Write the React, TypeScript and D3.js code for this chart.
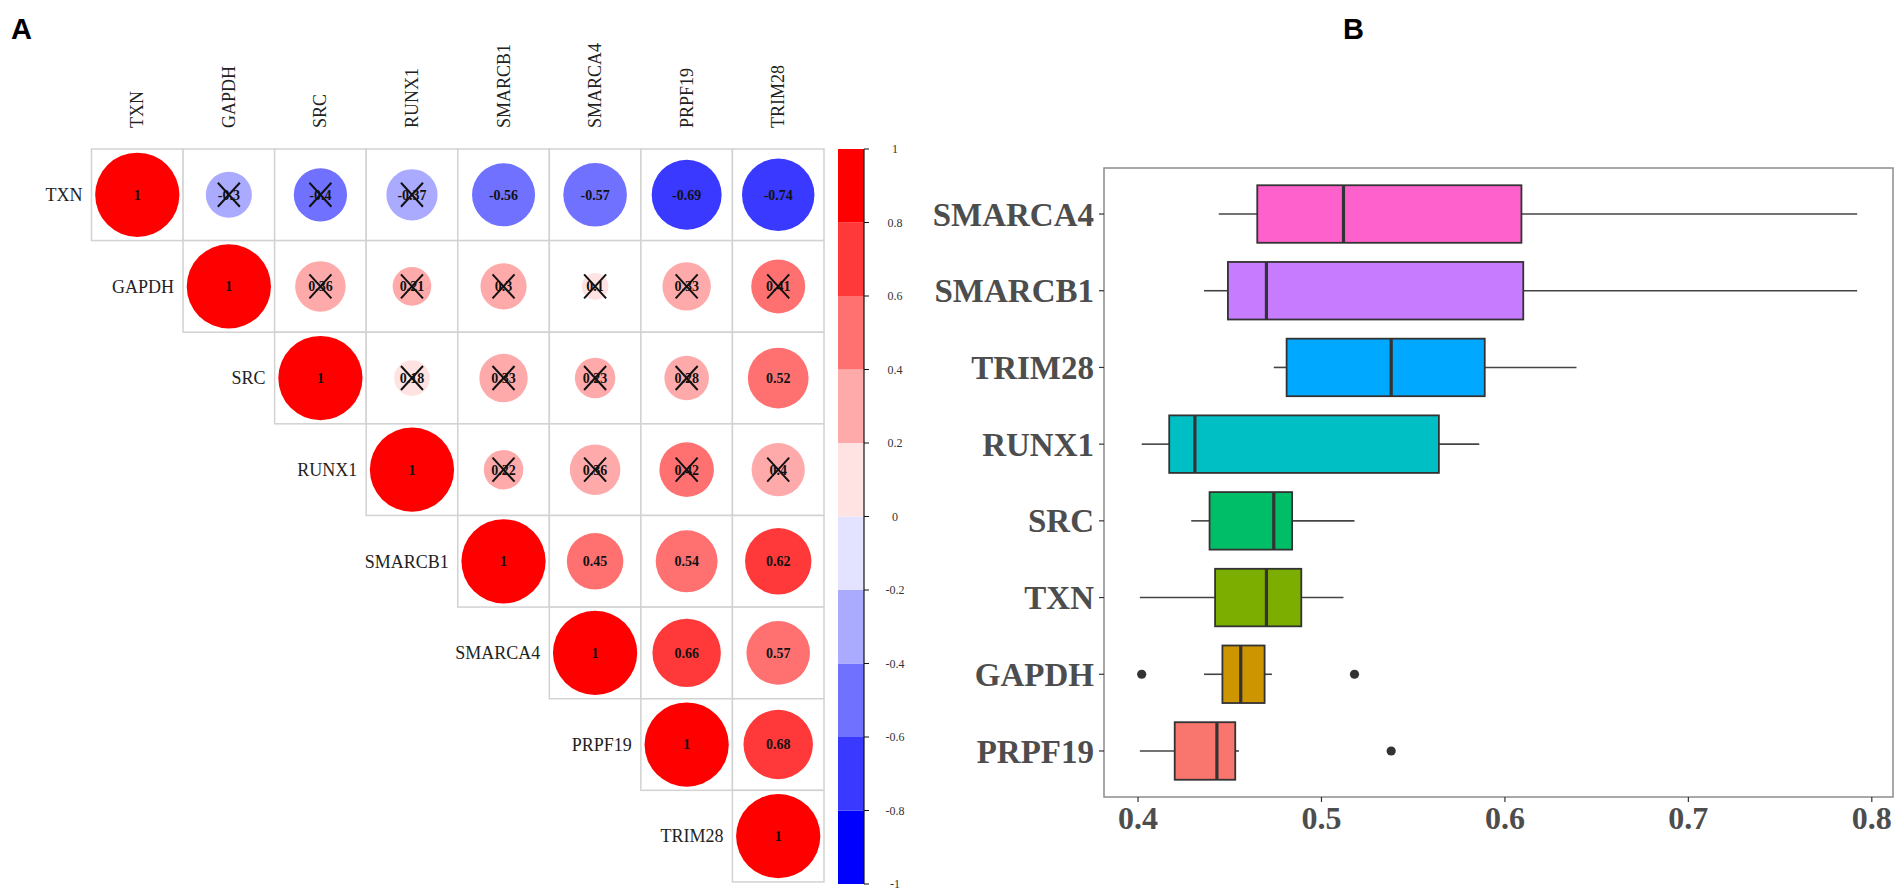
import { useMemo } from 'react';
import { scaleBand, scaleLinear, scalePoint, piecewise, interpolateRgb, bisectLeft, extent } from 'd3';

// ---- panel A: correlation matrix (upper triangle, one array per row) ----
const GENES = ['TXN', 'GAPDH', 'SRC', 'RUNX1', 'SMARCB1', 'SMARCA4', 'PRPF19', 'TRIM28'];
const CORR_TXN = [1, -0.3, -0.4, -0.37, -0.56, -0.57, -0.69, -0.74];
const CORR_GAPDH = [1, 0.36, 0.21, 0.3, 0.1, 0.33, 0.41];
const CORR_SRC = [1, 0.18, 0.33, 0.23, 0.28, 0.52];
const CORR_RUNX1 = [1, 0.22, 0.36, 0.42, 0.4];
const CORR_SMARCB1 = [1, 0.45, 0.54, 0.62];
const CORR_SMARCA4 = [1, 0.66, 0.57];
const CORR_PRPF19 = [1, 0.68];
const CORR_TRIM28 = [1];
const CORR_ROWS = [CORR_TXN, CORR_GAPDH, CORR_SRC, CORR_RUNX1, CORR_SMARCB1, CORR_SMARCA4, CORR_PRPF19, CORR_TRIM28];
// pairs crossed out as not significant
const NOT_SIGNIFICANT = [
  ['TXN', 'GAPDH'], ['TXN', 'SRC'], ['TXN', 'RUNX1'],
  ['GAPDH', 'SRC'], ['GAPDH', 'RUNX1'], ['GAPDH', 'SMARCB1'], ['GAPDH', 'SMARCA4'], ['GAPDH', 'PRPF19'], ['GAPDH', 'TRIM28'],
  ['SRC', 'RUNX1'], ['SRC', 'SMARCB1'], ['SRC', 'SMARCA4'], ['SRC', 'PRPF19'],
  ['RUNX1', 'SMARCB1'], ['RUNX1', 'SMARCA4'], ['RUNX1', 'PRPF19'], ['RUNX1', 'TRIM28'],
];
const LEGEND_TICKS = [-1, -0.8, -0.6, -0.4, -0.2, 0, 0.2, 0.4, 0.6, 0.8, 1];

// ---- panel B: box plot, bottom to top ----
const BOX_GENES = ['PRPF19', 'GAPDH', 'TXN', 'SRC', 'RUNX1', 'TRIM28', 'SMARCB1', 'SMARCA4'];
const BOX_LOW = [0.401, 0.436, 0.401, 0.429, 0.402, 0.474, 0.436, 0.444];
const BOX_Q1 = [0.42, 0.446, 0.442, 0.439, 0.417, 0.481, 0.449, 0.465];
const BOX_MEDIAN = [0.443, 0.456, 0.47, 0.474, 0.431, 0.538, 0.47, 0.512];
const BOX_Q3 = [0.453, 0.469, 0.489, 0.484, 0.564, 0.589, 0.61, 0.609];
const BOX_HIGH = [0.455, 0.473, 0.512, 0.518, 0.586, 0.639, 0.792, 0.792];
const BOX_OUTLIERS: [string, number][] = [['PRPF19', 0.538], ['GAPDH', 0.402], ['GAPDH', 0.518]];
const BOX_COLORS = ['#F8766D', '#CD9600', '#7CAE00', '#00BE67', '#00BFC4', '#00A9FF', '#C77CFF', '#FF61CC'];
const X_TICKS = [0.4, 0.5, 0.6, 0.7, 0.8];

const SERIF = '"Liberation Serif", "DejaVu Serif", serif';
const SANS = '"Liberation Sans", Arial, sans-serif';

// colorRampPalette(c('blue','white','red'))(10), right-closed bins of width 0.2
const RAMP = piecewise(interpolateRgb, ['#0000FF', '#FFFFFF', '#FF0000']);
const CORR_COLORS = Array.from({ length: 10 }, (_, k) => RAMP(k / 9));
const THRESHOLDS = [-8, -6, -4, -2, 0, 2, 4, 6, 8].map((d) => d / 10);
const corrColor = (r: number) => CORR_COLORS[bisectLeft(THRESHOLDS, r)];

function CorrPanel() {
  const x = scaleBand<string>().domain(GENES).range([91.5, 824]);
  const y = scaleBand<string>().domain(GENES).range([149, 882]);
  const cell = x.bandwidth();
  const yLeg = scaleLinear().domain([-1, 1]).range([884, 149]);
  const ns = new Set(NOT_SIGNIFICANT.map(([a, b]) => `${a}|${b}`));

  const cells = CORR_ROWS.flatMap((row, i) =>
    row.map((r, k) => ({ row: GENES[i], col: GENES[i + k], r })),
  );

  return (
    <g>
      {cells.map((c) => (
        <rect
          key={`g-${c.row}-${c.col}`}
          x={x(c.col)}
          y={y(c.row)}
          width={cell}
          height={cell}
          fill="#fff"
          stroke="#d2d2d2"
          strokeWidth={1.5}
        />
      ))}
      {cells.map((c) => {
        const cx = x(c.col)! + cell / 2;
        const cy = y(c.row)! + cell / 2;
        const crossed = ns.has(`${c.row}|${c.col}`);
        return (
          <g key={`c-${c.row}-${c.col}`}>
            <circle cx={cx} cy={cy} r={cell * 0.46 * Math.sqrt(Math.abs(c.r))} fill={corrColor(c.r)} />
            <text
              x={cx}
              y={cy}
              dy="0.35em"
              textAnchor="middle"
              fontFamily={SERIF}
              fontWeight="bold"
              fontSize={14}
              fill="#111"
            >
              {String(c.r)}
            </text>
            {crossed && (
              <g stroke="#111" strokeWidth={2}>
                <line x1={cx - 11} y1={cy - 12} x2={cx + 11} y2={cy + 12} />
                <line x1={cx + 11} y1={cy - 12} x2={cx - 11} y2={cy + 12} />
              </g>
            )}
          </g>
        );
      })}
      {GENES.map((g) => (
        <text
          key={`row-${g}`}
          x={x(g)! - 9}
          y={y(g)! + cell / 2}
          dy="0.35em"
          textAnchor="end"
          fontFamily={SERIF}
          fontSize={18}
          fill="#222"
        >
          {g}
        </text>
      ))}
      {GENES.map((g) => (
        <text
          key={`col-${g}`}
          transform={`translate(${x(g)! + cell / 2 + 6},128) rotate(-90)`}
          fontFamily={SERIF}
          fontSize={18}
          fill="#222"
        >
          {g}
        </text>
      ))}
      {/* colour legend */}
      {CORR_COLORS.map((col, k) => (
        <rect
          key={`leg-${k}`}
          x={838}
          y={yLeg(-1 + (k + 1) * 0.2)}
          width={26}
          height={yLeg(-1 + k * 0.2) - yLeg(-1 + (k + 1) * 0.2)}
          fill={col}
        />
      ))}
      <line x1={864} x2={864} y1={yLeg(1)} y2={yLeg(-1)} stroke="#111" strokeWidth={1.2} />
      {LEGEND_TICKS.map((t) => (
        <g key={`lt-${t}`}>
          <line x1={864} x2={869} y1={yLeg(t)} y2={yLeg(t)} stroke="#111" strokeWidth={1} />
          <text
            x={895}
            y={yLeg(t)}
            dy="0.35em"
            textAnchor="middle"
            fontFamily={SERIF}
            fontSize={12}
            fill="#333"
          >
            {String(t)}
          </text>
        </g>
      ))}
    </g>
  );
}

function BoxPanel() {
  const L = 1104, R = 1893, T = 168, B = 797;
  const x = useMemo(() => {
    const [lo, hi] = extent([...BOX_LOW, ...BOX_HIGH, ...BOX_OUTLIERS.map((d) => d[1])]) as [number, number];
    const pad = (hi - lo) * 0.05;
    return scaleLinear().domain([lo - pad, hi + pad]).range([L, R]);
  }, []);
  const y = scalePoint<string>().domain([...BOX_GENES].reverse()).range([T, B]).padding(0.6);
  const half = y.step() * 0.375;

  return (
    <g>
      <rect x={L} y={T} width={R - L} height={B - T} fill="#fff" stroke="#8c8c8c" strokeWidth={1.5} />
      {BOX_GENES.map((g, i) => {
        const cy = y(g)!;
        return (
          <g key={g}>
            <line x1={x(BOX_LOW[i])} x2={x(BOX_Q1[i])} y1={cy} y2={cy} stroke="#444" strokeWidth={1.6} />
            <line x1={x(BOX_Q3[i])} x2={x(BOX_HIGH[i])} y1={cy} y2={cy} stroke="#444" strokeWidth={1.6} />
            <rect
              x={x(BOX_Q1[i])}
              y={cy - half}
              width={x(BOX_Q3[i]) - x(BOX_Q1[i])}
              height={half * 2}
              fill={BOX_COLORS[i]}
              stroke="#333"
              strokeWidth={1.8}
            />
            <line x1={x(BOX_MEDIAN[i])} x2={x(BOX_MEDIAN[i])} y1={cy - half} y2={cy + half} stroke="#333" strokeWidth={3.2} />
            <line x1={L - 5} x2={L} y1={cy} y2={cy} stroke="#333" strokeWidth={1.2} />
            <text
              x={L - 10}
              y={cy}
              dy="0.35em"
              textAnchor="end"
              fontFamily={SERIF}
              fontWeight="bold"
              fontSize={33}
              fill="#4d4d4d"
            >
              {g}
            </text>
          </g>
        );
      })}
      {BOX_OUTLIERS.map(([g, v], i) => (
        <circle key={`o-${i}`} cx={x(v)} cy={y(g)!} r={4.6} fill="#333" />
      ))}
      {X_TICKS.map((t) => (
        <g key={`xt-${t}`}>
          <line x1={x(t)} x2={x(t)} y1={B} y2={B + 5} stroke="#333" strokeWidth={1.2} />
          <text
            x={x(t)}
            y={B + 32}
            textAnchor="middle"
            fontFamily={SERIF}
            fontWeight="bold"
            fontSize={32}
            fill="#4d4d4d"
          >
            {t.toFixed(1)}
          </text>
        </g>
      ))}
    </g>
  );
}

export default function App() {
  return (
    <svg
      width={1904}
      height={896}
      style={{ position: 'absolute', left: 0, top: 0, background: '#fff' }}
    >
      <text x={11} y={39} fontFamily={SANS} fontWeight="bold" fontSize={29} fill="#000">
        A
      </text>
      <text x={1343} y={39} fontFamily={SANS} fontWeight="bold" fontSize={29} fill="#000">
        B
      </text>
      <CorrPanel />
      <BoxPanel />
    </svg>
  );
}
